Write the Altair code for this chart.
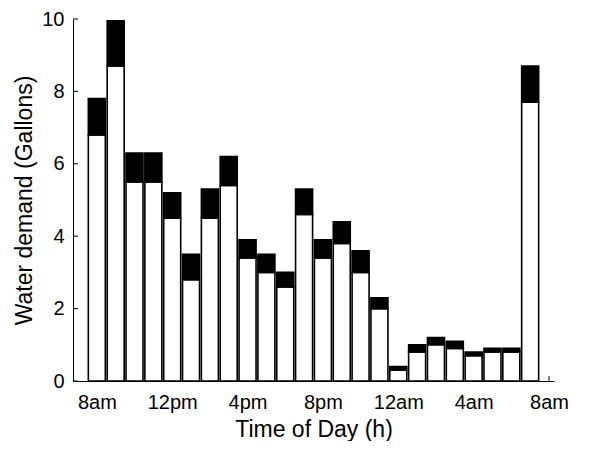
import altair as alt
import pandas as pd

hours = list(range(8, 32))
total = [7.8, 9.95, 6.3, 6.3, 5.2, 3.5, 5.3, 6.2, 3.9, 3.5, 3.0, 5.3,
         3.9, 4.4, 3.6, 2.3, 0.4, 1.0, 1.2, 1.1, 0.8, 0.9, 0.9, 8.7]
base = [6.8, 8.7, 5.5, 5.5, 4.5, 2.8, 4.5, 5.4, 3.4, 3.0, 2.6, 4.6,
        3.4, 3.8, 3.0, 2.0, 0.3, 0.8, 1.0, 0.9, 0.7, 0.8, 0.8, 7.7]

x_ticks = [8, 12, 16, 20, 24, 28, 32]
x_labels = ["8am", "12pm", "4pm", "8pm", "12am", "4am", "8am"]
y_ticks = [0, 2, 4, 6, 8, 10]

W, H = 481, 362
FONT = "Liberation Sans"
XT = "Time of Day (h)"
YT = "Water demand (Gallons)"

df = pd.DataFrame({"hour": hours, "total": total, "base": base})
xt = pd.DataFrame({"xt": x_ticks})
yt = pd.DataFrame({"yt": y_ticks})

label_expr = ""
for v, l in zip(x_ticks, x_labels):
    label_expr += f"datum.value == {v} ? '{l}' : "
label_expr += "''"

xscale = alt.Scale(domain=[7, 32], nice=False, zero=False)
yscale = alt.Scale(domain=[0, 10], nice=False)

xaxis = alt.Axis(values=x_ticks, labelExpr=label_expr, title=XT,
                 grid=False, ticks=False, labelPadding=11, titlePadding=6)
yaxis = alt.Axis(values=y_ticks, title=YT, grid=False,
                 ticks=False, labelPadding=9, titlePadding=5)

xtick_layer = alt.Chart(xt).mark_rule(color="black", strokeWidth=1).encode(
    x=alt.X("xt:Q", scale=xscale, axis=xaxis, title=XT),
    y=alt.value(H),
    y2=alt.value(H - 5),
)

ytick_layer = alt.Chart(yt).mark_rule(color="black", strokeWidth=1).encode(
    y=alt.Y("yt:Q", scale=yscale, axis=yaxis, title=YT),
    x=alt.value(0),
    x2=alt.value(5),
)

white = alt.Chart(df).mark_bar(
    size=17, fill="white", stroke="black", strokeWidth=1.6
).encode(
    x=alt.X("hour:Q", scale=xscale, axis=xaxis, title=XT),
    y=alt.Y("base:Q", scale=yscale, axis=yaxis, title=YT),
    y2=alt.value(H),
)

black = alt.Chart(df).mark_bar(
    size=17, fill="black", stroke="black", strokeWidth=1.6
).encode(
    x=alt.X("hour:Q", scale=xscale, axis=xaxis, title=XT),
    y=alt.Y("total:Q", scale=yscale, axis=yaxis, title=YT),
    y2="base:Q",
)

chart = alt.layer(xtick_layer, ytick_layer, white, black).properties(
    width=W, height=H,
    autosize=alt.AutoSizeParams(type="none"),
    padding={"left": 65, "top": 11, "right": 30, "bottom": 60},
).configure_view(stroke=None).configure_axis(
    domainColor="black", domainWidth=1,
    labelFont=FONT, titleFont=FONT, labelColor="black", titleColor="black",
    labelFontSize=20, titleFontSize=23, titleFontWeight="normal",
)

chart.save("out.html", embed_options={"renderer": "svg", "actions": False})
